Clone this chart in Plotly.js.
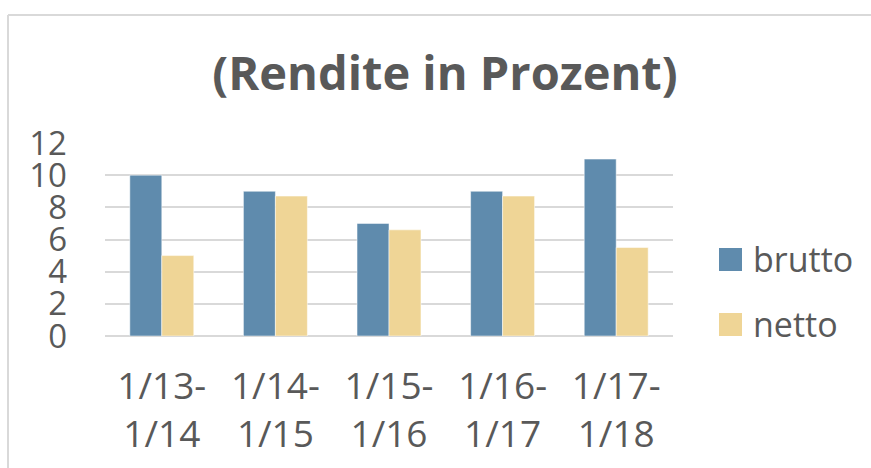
<!DOCTYPE html>
<html>
<head>
<meta charset="utf-8">
<script src="https://cdn.plot.ly/plotly-3.0.1.min.js"></script>
<style>html,body{margin:0;padding:0;background:#fff;}#chart{width:871px;height:468px;}</style>
</head>
<body>
<div id="chart"></div>
<script>
const categories = ["1/13-<br>1/14", "1/14-<br>1/15", "1/15-<br>1/16", "1/16-<br>1/17", "1/17-<br>1/18"];
const brutto = [10, 9, 7, 9, 11];
const netto = [5, 8.7, 6.6, 8.7, 5.5];
const seriesNames = ["brutto", "netto"];
const colors = ["#5f8bad", "#efd596"];
const titleText = "(Rendite in Prozent)";

const W = 871, H = 468;
const M = {l: 105, r: 198, t: 143, b: 132};
const pw = W - M.l - M.r, ph = H - M.t - M.b;
const px = x => (x - M.l) / pw;
const py = y => (H - M.b - y) / ph;

const font = "'Open Sans', 'Noto Sans', sans-serif";
const grey = "#595959";

const traces = [
  {type: "bar", name: seriesNames[0], x: categories, y: brutto,
   marker: {color: colors[0], line: {color: "rgba(255,255,255,0.5)", width: 1}}, hoverinfo: "y"},
  {type: "bar", name: seriesNames[1], x: categories, y: netto,
   marker: {color: colors[1], line: {color: "rgba(255,255,255,0.5)", width: 1}}, hoverinfo: "y"}
];

const shapes = [
  // chart border (left and top)
  {type: "line", xref: "paper", yref: "paper", x0: px(8), x1: px(8), y0: py(15), y1: py(470), line: {color: "#d9d9d9", width: 2}},
  {type: "line", xref: "paper", yref: "paper", x0: px(8), x1: px(872), y0: py(15), y1: py(15), line: {color: "#d9d9d9", width: 2}},
  // legend swatches
  {type: "rect", xref: "paper", yref: "paper", x0: px(719), x1: px(742), y0: py(248), y1: py(271), fillcolor: colors[0], line: {width: 0}},
  {type: "rect", xref: "paper", yref: "paper", x0: px(719), x1: px(742), y0: py(313), y1: py(336), fillcolor: colors[1], line: {width: 0}}
];

const annotations = seriesNames.map((n, i) => ({
  xref: "paper", yref: "paper", x: px(751), y: py(i === 0 ? 259 : 324),
  xanchor: "left", yanchor: "middle", showarrow: false, text: n,
  font: {family: font, size: 34, color: grey}
}));

const layout = {
  width: W, height: H,
  margin: M,
  paper_bgcolor: "#fff", plot_bgcolor: "#fff",
  showlegend: false,
  barmode: "group", bargap: 0.437, bargroupgap: 0,
  title: {text: "<b>" + titleText + "</b>", x: 445 / W, xanchor: "center", y: 1 - 74 / H, yanchor: "middle",
          font: {family: font, size: 47, color: grey}},
  xaxis: {type: "category", showgrid: false, showline: false, zeroline: false, ticks: "",
          tickfont: {family: font, size: 37, color: grey}, ticklabelstandoff: 25, fixedrange: true},
  yaxis: {range: [0, 12], dtick: 2, tick0: 0, showgrid: true, gridcolor: "#d9d9d9", gridwidth: 2,
          zeroline: true, zerolinecolor: "#d9d9d9", zerolinewidth: 2, showline: false, ticks: "",
          tickfont: {family: font, size: 33, color: grey}, ticklabelstandoff: 37, fixedrange: true},
  shapes: shapes,
  annotations: annotations
};

Plotly.newPlot("chart", traces, layout, {displayModeBar: false, staticPlot: true});
</script>
</body>
</html>
